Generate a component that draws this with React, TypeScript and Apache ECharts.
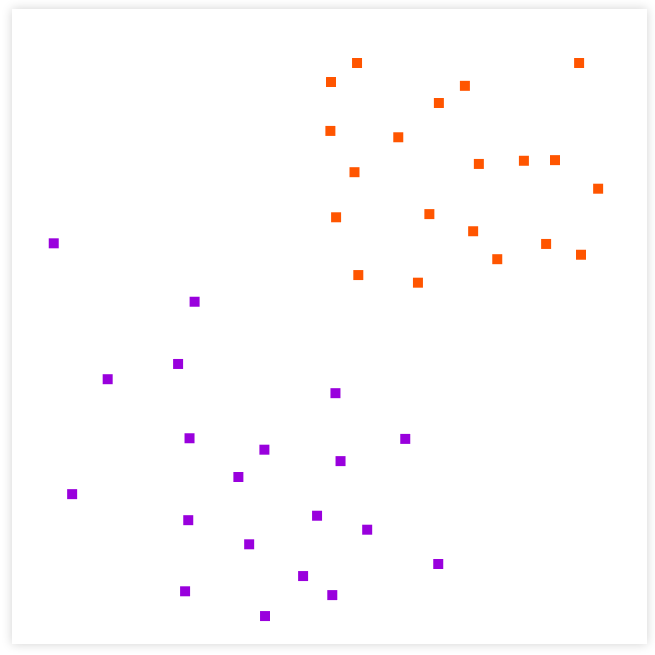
import React, { useEffect, useRef } from "react";
import * as echarts from "echarts";

const orangeX = [54.3, 89.3, 50.2, 71.3, 67.2, 50.1, 60.8, 73.5, 80.6, 85.5, 53.9, 92.3, 51.0, 65.7, 72.6, 84.1, 76.4, 89.6, 54.5, 63.9];
const orangeY = [91.5, 91.5, 88.5, 87.9, 85.2, 80.8, 79.8, 75.6, 76.1, 76.2, 74.3, 71.7, 67.2, 67.7, 65.0, 63.0, 60.6, 61.3, 58.1, 56.9];
const purpleX = [6.5, 28.7, 26.1, 15.0, 50.9, 27.9, 61.9, 39.7, 51.7, 35.6, 9.4, 27.7, 48.0, 55.9, 37.3, 67.1, 45.8, 27.2, 50.4, 39.8];
const purpleY = [63.1, 53.9, 44.1, 41.7, 39.5, 32.4, 32.3, 30.6, 28.8, 26.3, 23.6, 19.5, 20.2, 18.0, 15.7, 12.6, 10.7, 8.3, 7.7, 4.4];

export default function App() {
  const ref = useRef<HTMLDivElement>(null);
  useEffect(() => {
    if (!ref.current) return;
    const chart = echarts.init(ref.current, null, { renderer: "svg" });
    chart.setOption({
      animation: false,
      grid: { left: 0.5, right: -0.5, top: 0, bottom: 0 },
      xAxis: { type: "value", min: 0, max: 100, show: false },
      yAxis: { type: "value", min: 0, max: 100, show: false },
      series: [
        {
          type: "scatter",
          symbol: "rect",
          symbolSize: 10,
          itemStyle: { color: "#ff5500", opacity: 1 },
          data: orangeX.map((x, i) => [x, orangeY[i]]),
        },
        {
          type: "scatter",
          symbol: "rect",
          symbolSize: 10,
          itemStyle: { color: "#9900dd", opacity: 1 },
          data: purpleX.map((x, i) => [x, purpleY[i]]),
        },
      ],
    });
    return () => chart.dispose();
  }, []);
  return (
    <div
      style={{
        position: "absolute",
        left: 12,
        top: 9,
        width: 635,
        height: 635,
        background: "#fff",
        boxShadow: "0 0 10px rgba(0,0,0,0.18)",
      }}
    >
      <div ref={ref} style={{ width: 635, height: 635 }} />
    </div>
  );
}
